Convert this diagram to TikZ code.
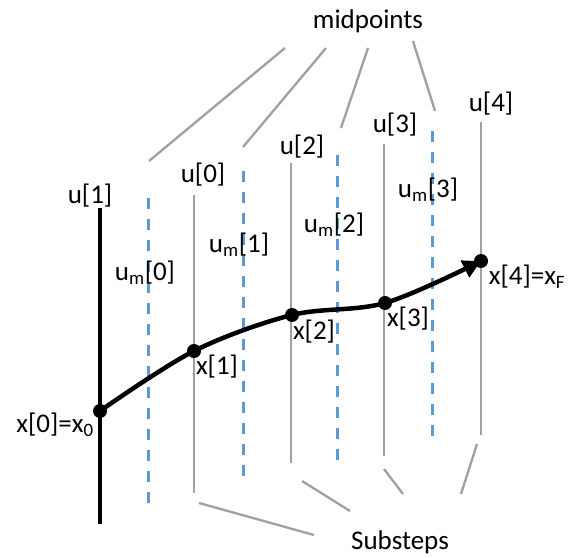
\documentclass[tikz,border=0pt]{standalone}
\usepackage{fontspec}
\setmainfont{Carlito}
\usetikzlibrary{arrows.meta}
\definecolor{linegray}{RGB}{160,160,160}
\definecolor{midblue}{RGB}{91,155,213}

\begin{document}
\begin{tikzpicture}[x=10pt,y=10pt,
  lbl/.style={font=\fontsize{27}{32}\selectfont,inner sep=0pt},
  knot/.style={linegray,line width=2.8pt},
  midline/.style={midblue,line width=3pt,dash pattern=on 11pt off 10pt},
  lead/.style={linegray,line width=2.3pt},
  dot/.style={circle,fill=black,inner sep=0pt,minimum size=14pt}]
  \useasboundingbox (0,0) rectangle (57,55.7);
  % grid lines: knots and midpoints
  \coordinate (U1t) at (10.0,34.9); \coordinate (U1b) at (10.0,3.3);
  \coordinate (M0t) at (14.8,35.9); \coordinate (M0b) at (14.8,4.8);
  \coordinate (U0t) at (19.4,36.2); \coordinate (U0b) at (19.4,6.4);
  \coordinate (M1t) at (24.3,38.6); \coordinate (M1b) at (24.3,7.7);
  \coordinate (U2t) at (29.1,39.4); \coordinate (U2b) at (29.1,9.4);
  \coordinate (M2t) at (33.7,40.2); \coordinate (M2b) at (33.7,9.2);
  \coordinate (U3t) at (38.4,41.3); \coordinate (U3b) at (38.4,10.1);
  \coordinate (M3t) at (43.2,42.6); \coordinate (M3b) at (43.2,11.6);
  \coordinate (U4t) at (48.1,43.5); \coordinate (U4b) at (48.1,12.2);
  \draw[line width=4.5pt] (U1t)--(U1b);
  \draw[knot] (U0t)--(U0b);
  \draw[knot] (U2t)--(U2b);
  \draw[knot] (U3t)--(U3b);
  \draw[knot] (U4t)--(U4b);
  \draw[midline] (M0t)--(M0b);
  \draw[midline] (M1t)--(M1b);
  \draw[midline] (M2t)--(M2b);
  \draw[midline] (M3t)--(M3b);
  % trajectory
  \node[dot] (X0) at (10.0,14.6) {};
  \node[dot] (X1) at (19.4,20.6) {};
  \node[dot] (X2) at (29.2,24.2) {};
  \node[dot] (X3) at (38.5,25.4) {};
  \node[dot] (X4) at (48.1,29.6) {};
  \draw[line width=4.5pt,-{Triangle[length=18pt,width=18pt]}]
    plot[smooth,tension=0.55] coordinates
    {(X0.center) (X1.center) (X2.center) (X3.center) (X4.center)};
  % labels
  \node[lbl] (mid) at (36.8,53.6) {midpoints};
  \node[lbl] (sub) at (40.0,1.5) {Substeps};
  \node[lbl] (lu1) at (9.0,36.1) {u[1]};
  \node[lbl] (lu0) at (20.3,38.2) {u[0]};
  \node[lbl] (lu2) at (30.2,41.0) {u[2]};
  \node[lbl] (lu3) at (39.5,43.2) {u[3]};
  \node[lbl] (lu4) at (49.1,45.3) {u[4]};
  \node[lbl] (lm0) at (14.5,28.4) {u\textsubscript{m}[0]};
  \node[lbl] (lm1) at (23.9,31.2) {u\textsubscript{m}[1]};
  \node[lbl] (lm2) at (33.4,33.2) {u\textsubscript{m}[2]};
  \node[lbl] (lm3) at (42.8,36.7) {u\textsubscript{m}[3]};
  \node[lbl] (lx0) at (5.5,13.2) {x[0]=x\textsubscript{0}};
  \node[lbl] (lx1) at (21.7,19.0) {x[1]};
  \node[lbl] (lx2) at (31.4,22.5) {x[2]};
  \node[lbl] (lx3) at (40.8,23.8) {x[3]};
  \node[lbl] (lx4) at (52.7,28.0) {x[4]=x\textsubscript{F}};
  % leaders
  \coordinate (P1a) at (28.5,50.9); \coordinate (P1b) at (14.9,39.6);
  \coordinate (P2a) at (32.6,50.9); \coordinate (P2b) at (24.3,41.0);
  \coordinate (P3a) at (36.8,50.9); \coordinate (P3b) at (34.1,42.9);
  \coordinate (P4a) at (41.3,51.6); \coordinate (P4b) at (43.5,44.6);
  \coordinate (S1a) at (19.9,5.4); \coordinate (S1b) at (31.4,2.2);
  \coordinate (S2a) at (30.2,7.6); \coordinate (S2b) at (35.0,4.6);
  \coordinate (S3a) at (38.4,8.8); \coordinate (S3b) at (40.3,6.3);
  \coordinate (S4a) at (47.7,11.3); \coordinate (S4b) at (46.1,6.3);
  \draw[lead] (P1a)--(P1b);
  \draw[lead] (P2a)--(P2b);
  \draw[lead] (P3a)--(P3b);
  \draw[lead] (P4a)--(P4b);
  \draw[lead] (S1a)--(S1b);
  \draw[lead] (S2a)--(S2b);
  \draw[lead] (S3a)--(S3b);
  \draw[lead] (S4a)--(S4b);
\end{tikzpicture}
\end{document}
